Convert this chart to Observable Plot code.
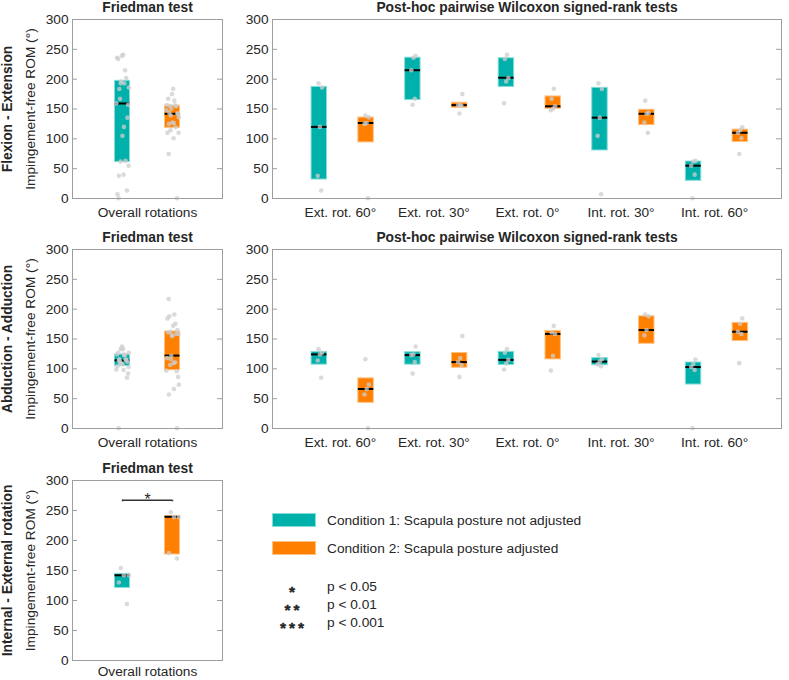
<!DOCTYPE html>
<html>
<head>
<meta charset="utf-8">
<script src="https://cdn.jsdelivr.net/npm/d3@7"></script>
<script src="https://cdn.jsdelivr.net/npm/@observablehq/plot@0.6"></script>
<style>
  body { margin: 0; background: #fff; }
  #chart { position: relative; width: 789px; height: 680px; overflow: hidden; font-family: "Liberation Sans", Arial, sans-serif; color: #262626; }
  #chart svg { position: absolute; overflow: visible; }
</style>
</head>
<body>
<div id="chart"></div>
<script>
// ---------------------------------------------------------------------------
// Data: impingement-free range of motion (°) per humeral rotation and condition
// ---------------------------------------------------------------------------
const rotations = ["Ext. rot. 60°", "Ext. rot. 30°", "Ext. rot. 0°", "Int. rot. 30°", "Int. rot. 60°"];
const conditionLabels = ["Condition 1: Scapula posture not adjusted", "Condition 2: Scapula posture adjusted"];
const conditionColors = ["#00b0aa", "#ff7f00"];
const conditionEdges = ["#86dcd8", "#ffc282"];
const yTicks = [0, 50, 100, 150, 200, 250, 300];
const significanceStars = ["*", "**", "***"];
const significanceLabels = ["p < 0.05", "p < 0.01", "p < 0.001"];

// Flexion - Extension: individual values per rotation
const flexCond1 = [[193, 186, 120, 38, 13.5], [239, 236, 215, 167, 157], [241, 234, 202, 196, 159.5], [193, 183.5, 135.5, 105, 7], [63, 62, 55, 40, 0.5]];
const flexCond2 = [[139, 136, 126.5, 125, 0.5], [175, 156.5, 156, 155, 142.5], [184, 167, 154.5, 150.5, 148], [164, 143.5, 142, 127.5, 110], [119.5, 114.5, 110, 101, 74.5]];
// box statistics [q1, median, q3] per rotation
const flexBox1 = [[31.8, 120, 187], [165, 215, 236], [187, 202.4, 235], [80.5, 135.5, 185.5], [29.7, 55, 62]];
const flexBox2 = [[94, 126.5, 135.7], [152, 156.5, 160.5], [150.3, 154.5, 171], [122.9, 142, 148.7], [94.6, 110.2, 115.5]];
const flexFriedmanBox = [[61, 159.2, 197.2], [118.5, 142, 155.5]];

// Abduction - Adduction
const abdCond1 = [[133, 127, 124, 114, 85], [137.5, 124, 123, 111.5, 92], [133, 127, 115, 108.5, 99], [123, 116, 112, 107.5, 104.5], [115.5, 108, 103, 98, 0.5]];
const abdCond2 = [[116, 73.5, 66, 57, 0.5], [155, 118, 111, 106.5, 86.5], [172, 161, 158.5, 122, 97], [191, 188, 165, 156], [184.5, 175.5, 162, 158.5, 109.5]];
const abdBox1 = [[107, 124.2, 128.3], [107, 123, 127.8], [106.5, 115, 128.4], [106, 112.2, 118], [73.7, 103, 110.6]];
const abdBox2 = [[43, 66.2, 84], [101.8, 111.3, 126.5], [115.8, 158.5, 163.5], [142, 165, 188], [146.5, 162.2, 177]];
const abdFriedmanBox = [[104.6, 114.2, 124], [97.6, 122.2, 162.5]];
const abdFriedmanExtraCond2 = [217, 96];

// Internal - External rotation (overall only)
const rotCond1 = [154, 142, 142, 130, 94];
const rotCond2 = [247, 239, 239, 179, 170];
const rotFriedmanBox = [[121, 142, 144.4], [176.7, 239.5, 240.6]];
const rotBracketY = [267];
const rotBracketStars = ["*"];

// ---------------------------------------------------------------------------
const FONT = '"Liberation Sans", Arial, sans-serif';
const FRAME = "#9e9e9e";
const chart = document.getElementById("chart");

// deterministic horizontal spread so overlapping points stay visible
function spread(i, width) {
  return ((i * 0.6180339887 + 0.37) % 1 - 0.5) * width;
}

function baseStyle() {
  return {fontFamily: FONT, fontSize: "13.7px", color: "#262626", background: "transparent", overflow: "visible"};
}

function frameMarks(frameWidth) {
  return [
    Plot.frame({stroke: FRAME}),
    Plot.ruleY(yTicks, {y: d => d, stroke: FRAME, insetRight: frameWidth - 5}),
    Plot.ruleY(yTicks, {y: d => d, stroke: FRAME, insetLeft: frameWidth - 5}),
    Plot.axisY({ticks: yTicks, tickSize: 0, tickPadding: 4, label: null})
  ];
}

function boxMarks(boxes, halfWidth) {
  return [
    Plot.rect(boxes, {
      x1: d => d.x - halfWidth, x2: d => d.x + halfWidth,
      y1: d => d.q1, y2: d => d.q3,
      fill: d => conditionColors[d.c], stroke: d => conditionEdges[d.c], strokeWidth: 1
    }),
    Plot.ruleY(boxes, {x1: d => d.x - halfWidth, x2: d => d.x + halfWidth, y: d => d.med, stroke: "#000", strokeWidth: 2})
  ];
}

function pointMarks(points) {
  return Plot.dot(points, {x: "x", y: "y", r: 2.3, fill: "#cdcdcd", fillOpacity: 0.75, stroke: "none"});
}

function titleMark(title) {
  return Plot.text([title], {text: d => d, frameAnchor: "top", dy: -12.3, lineAnchor: "middle", fontWeight: "bold", fontSize: 13.8});
}

function leftLabels(rowLabel) {
  return [
    Plot.text([rowLabel], {text: d => d, frameAnchor: "left", dx: -64.5, rotate: -90, textAnchor: "middle", lineAnchor: "middle", fontWeight: "bold", fontSize: 13.8}),
    Plot.text(["Impingement-free ROM (°)"], {text: d => d, frameAnchor: "left", dx: -42, rotate: -90, textAnchor: "middle", lineAnchor: "middle"})
  ];
}

// Overall (Friedman) panel: both conditions pooled over all rotations
function friedmanPanel({top, height = 220, rowLabel, boxStats, values, extra = [[], []], bracketY = [], bracketStars = [], frameHeight = 179, labelPadding = 9}) {
  const width = 230, marginLeft = 72, marginRight = 8, marginTop = 19;
  const frameWidth = width - marginLeft - marginRight;
  const positions = [1, 2];
  const boxes = boxStats.map(([q1, med, q3], c) => ({c, x: positions[c], q1, med, q3}));
  const points = values.flatMap((vals, c) => vals.concat(extra[c]).map((v, i) => ({x: positions[c] + spread(i, 0.26), y: v})));
  const brackets = bracketY.map((y, i) => ({y, star: bracketStars[i]}));
  const svg = Plot.plot({
    width, height,
    marginLeft, marginRight, marginTop, marginBottom: height - marginTop - frameHeight,
    x: {domain: [0, 3]},
    y: {domain: [0, 300]},
    color: {type: "identity"},
    style: baseStyle(),
    marks: [
      ...boxMarks(boxes, 0.15),
      pointMarks(points),
      Plot.ruleY(brackets, {x1: positions[0], x2: positions[1], y: "y", stroke: "#333", strokeWidth: 1.5}),
      Plot.ruleX(brackets.flatMap(b => positions.map(x => ({x, y: b.y}))), {x: "x", y1: d => d.y - 2.5, y2: "y", stroke: "#333", strokeWidth: 1.5}),
      Plot.text(brackets, {x: (positions[0] + positions[1]) / 2, y: "y", text: "star", lineAnchor: "bottom", dy: 5, fontSize: 16}),
      ...frameMarks(frameWidth),
      Plot.axisX({ticks: [1.5], tickFormat: () => "Overall rotations", tickSize: 0, tickPadding: labelPadding, label: null}),
      titleMark("Friedman test"),
      ...leftLabels(rowLabel)
    ]
  });
  svg.style.left = "0px";
  svg.style.top = top + "px";
  chart.appendChild(svg);
}

// Pairwise (Wilcoxon) panel: one box per rotation and condition
function pairwisePanel({top, boxStats, values}) {
  const width = 559, marginLeft = 42, marginRight = 8, marginTop = 19;
  const frameWidth = width - marginLeft - marginRight;
  const boxes = [], points = [];
  rotations.forEach((r, i) => {
    [0, 1].forEach(c => {
      const x = 2 * i + 1 + c;
      const [q1, med, q3] = boxStats[c][i];
      boxes.push({c, x, q1, med, q3});
      values[c][i].forEach((v, k) => points.push({x: x + spread(k + i, 0.12), y: v}));
    });
  });
  const svg = Plot.plot({
    width, height: 220,
    marginLeft, marginRight, marginTop, marginBottom: 22,
    x: {domain: [0, 10.88]},
    y: {domain: [0, 300]},
    color: {type: "identity"},
    style: baseStyle(),
    marks: [
      ...boxMarks(boxes, 0.165),
      pointMarks(points),
      ...frameMarks(frameWidth),
      Plot.axisX({ticks: rotations.map((_, i) => 2 * i + 1.45), tickFormat: d => rotations[Math.round((d - 1.45) / 2)], tickSize: 0, tickPadding: 9, label: null}),
      titleMark("Post-hoc pairwise Wilcoxon signed-rank tests")
    ]
  });
  svg.style.left = "230px";
  svg.style.top = top + "px";
  chart.appendChild(svg);
}

friedmanPanel({top: 0, rowLabel: "Flexion - Extension", boxStats: flexFriedmanBox, values: [flexCond1.flat(), flexCond2.flat()]});
pairwisePanel({top: 0, boxStats: [flexBox1, flexBox2], values: [flexCond1, flexCond2]});

friedmanPanel({top: 230, rowLabel: "Abduction - Adduction", boxStats: abdFriedmanBox, values: [abdCond1.flat(), abdCond2.flat()], extra: [[], abdFriedmanExtraCond2]});
pairwisePanel({top: 230, boxStats: [abdBox1, abdBox2], values: [abdCond1, abdCond2]});

friedmanPanel({top: 461, height: 219, rowLabel: "Internal - External rotation", boxStats: rotFriedmanBox, values: [rotCond1, rotCond2], bracketY: rotBracketY, bracketStars: rotBracketStars, frameHeight: 180, labelPadding: 6});

// Legend: condition colours and significance levels
const legend = d3.create("svg").attr("width", 400).attr("height", 150)
  .style("left", "260px").style("top", "490px")
  .style("font-family", FONT).style("font-size", "13.7px").attr("fill", "#262626");
conditionLabels.forEach((label, c) => {
  legend.append("rect").attr("x", 12.5).attr("y", 23.5 + 28 * c).attr("width", 43).attr("height", 13)
    .attr("fill", conditionColors[c]).attr("stroke", conditionEdges[c]);
  legend.append("text").attr("x", 67).attr("y", 30 + 28 * c).attr("dy", "0.35em").text(label);
});
significanceStars.forEach((s, i) => {
  legend.append("text").attr("x", 33.5).attr("y", 97 + 18 * i + 9.8).attr("text-anchor", "middle")
    .style("font-size", "15.5px").style("font-weight", "bold")
    .attr("stroke", "#262626").attr("stroke-width", 0.4)
    .attr("letter-spacing", "3px").text(s);
  legend.append("text").attr("x", 67).attr("y", 96 + 18 * i).attr("dy", "0.35em").text(significanceLabels[i]);
});
chart.appendChild(legend.node());
</script>
</body>
</html>
